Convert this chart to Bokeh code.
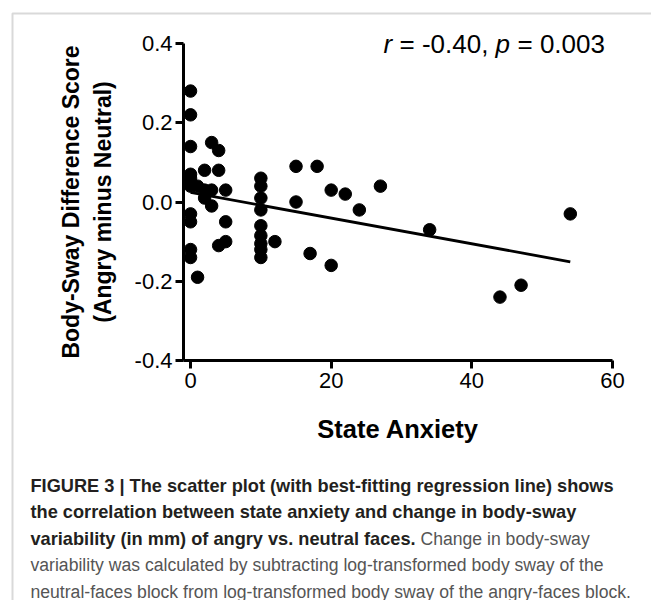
import numpy as np
from bokeh.plotting import figure
from bokeh.models import Range1d, FixedTicker, PrintfTickFormatter, Label, PolyAnnotation
from bokeh.embed import file_html
from bokeh.resources import INLINE

# ---- data ----
state_anxiety = [0, 0, 0, 0, 0, 0, 0, 1, 0, 0, 0, 0, 1,
                 2, 2, 2, 3, 3, 3, 4, 4, 4, 5, 5, 5,
                 10, 10, 10, 10, 10, 10, 10, 10, 10, 12,
                 15, 15, 17, 18, 20, 20, 22, 24, 27, 34, 44, 47, 54]
sway_diff = [0.28, 0.22, 0.14, 0.07, 0.06, 0.05, 0.04, 0.04, -0.03, -0.05, -0.12, -0.14, -0.19,
             0.08, 0.03, 0.01, 0.15, 0.03, -0.01, 0.13, 0.08, -0.11, 0.03, -0.05, -0.10,
             0.06, 0.04, 0.01, -0.02, -0.06, -0.085, -0.105, -0.12, -0.14, -0.10,
             0.09, 0.00, -0.13, 0.09, 0.03, -0.16, 0.02, -0.02, 0.04, -0.07, -0.24, -0.21, -0.03]
x_ticks = [0, 20, 40, 60]
y_ticks = [-0.4, -0.2, 0.0, 0.2, 0.4]
x_bounds = (-1, 60)
y_bounds = (-0.4, 0.4)
stat_text = ["r", "= -0.40,", "p", "= 0.003"]
x_label = "State Anxiety"
y_label = "Body-Sway Difference Score\n(Angry minus Neutral)"
caption_bold = ["FIGURE 3 | The scatter plot (with best-fitting regression line) shows",
                "the correlation between state anxiety and change in body-sway",
                "variability (in mm) of angry vs. neutral faces."]
caption_regular = ["Change in body-sway",
                   "variability was calculated by subtracting log-transformed body sway of the",
                   "neutral-faces block from log-transformed body sway of the angry-faces block."]

# regression line from the data
xa = np.array(state_anxiety, dtype=float)
ya = np.array(sway_diff, dtype=float)
slope, intercept = np.polyfit(xa, ya, 1)
fit_x = [xa.min(), xa.max()]
fit_y = [intercept + slope * v for v in fit_x]

FONT = "Liberation Sans"
W, H = 651, 600
# pixel placement of the axes on the canvas
AX_L, AX_R = 183, 612      # x = -1 .. 60
AX_T, AX_B = 43, 360       # y = 0.4 .. -0.4
xs = (x_bounds[1] - x_bounds[0]) / (AX_R - AX_L)
ys = (y_bounds[1] - y_bounds[0]) / (AX_B - AX_T)
xr = Range1d(x_bounds[0] - AX_L * xs, x_bounds[0] + (W - AX_L) * xs)
yr = Range1d(y_bounds[0] - (H - AX_B) * ys, y_bounds[1] + AX_T * ys)

p = figure(width=W, height=H, output_backend="svg", toolbar_location=None,
           x_range=xr, y_range=yr,
           min_border_left=0, min_border_right=0, min_border_top=0, min_border_bottom=0)
p.outline_line_color = None
p.grid.visible = False
p.background_fill_color = "white"
p.border_fill_color = "white"

p.scatter(state_anxiety, sway_diff, size=12.5, color="black", marker="circle")
p.line(fit_x, fit_y, line_width=2.8, color="black")

p.xaxis.fixed_location = y_bounds[0]
p.yaxis.fixed_location = x_bounds[0]
p.xaxis.bounds = x_bounds
p.yaxis.bounds = y_bounds

for ax in (p.xaxis[0], p.yaxis[0]):
    ax.axis_line_width = 3
    ax.axis_line_color = "black"
    ax.major_tick_line_width = 3
    ax.major_tick_line_color = "black"
    ax.major_tick_out = 8
    ax.major_tick_in = 0
    ax.minor_tick_line_color = None
    ax.major_label_text_font = FONT
    ax.major_label_text_font_size = "22px"
    ax.major_label_text_color = "black"
    ax.axis_label_text_font = FONT
    ax.axis_label_text_font_style = "bold"
    ax.axis_label_text_color = "black"

p.xaxis.axis_label_text_font_size = "25.5px"
p.yaxis.axis_label_text_font_size = "23px"
p.xaxis.ticker = FixedTicker(ticks=x_ticks)
p.yaxis.ticker = FixedTicker(ticks=y_ticks)
p.yaxis.formatter = PrintfTickFormatter(format="%.1f")
p.xaxis.major_label_standoff = 4
p.yaxis.major_label_standoff = 3
p.xaxis.axis_label = x_label
p.yaxis.axis_label = y_label
p.xaxis.axis_label_standoff = 24
p.yaxis.axis_label_standoff = 16

# stats annotation (screen units: origin at bottom-left of canvas)
stat_x = [383, 399, 495, 517]
for i, t in enumerate(stat_text):
    p.add_layout(Label(x=stat_x[i], y=H - 43, x_units="screen", y_units="screen", text=t,
                       text_font=FONT, text_font_size="26px",
                       text_font_style="italic" if i % 2 == 0 else "normal",
                       text_baseline="middle", text_color="black"))

# outer frame (top and left edges)
p.add_layout(PolyAnnotation(xs=[12, 12, W + 50, W + 50], ys=[-50, H - 13, H - 13, -50],
                            xs_units="screen", ys_units="screen",
                            fill_alpha=0, line_color="#808080", line_width=2))

# caption
cap_y = [485, 511.5, 538]
for i, t in enumerate(caption_bold):
    p.add_layout(Label(x=30, y=H - cap_y[i], x_units="screen", y_units="screen", text=t,
                       text_font=FONT, text_font_size="18.2px", text_font_style="bold",
                       text_baseline="middle", text_color="#231f20"))
reg_pos = [(420, 538), (30, 564.5), (30, 591)]
for (x, y), t in zip(reg_pos, caption_regular):
    p.add_layout(Label(x=x, y=H - y, x_units="screen", y_units="screen", text=t,
                       text_font=FONT, text_font_size="17.6px", text_font_style="normal",
                       text_baseline="middle", text_color="#555555"))

open("out.html", "w").write(file_html(p, INLINE))
